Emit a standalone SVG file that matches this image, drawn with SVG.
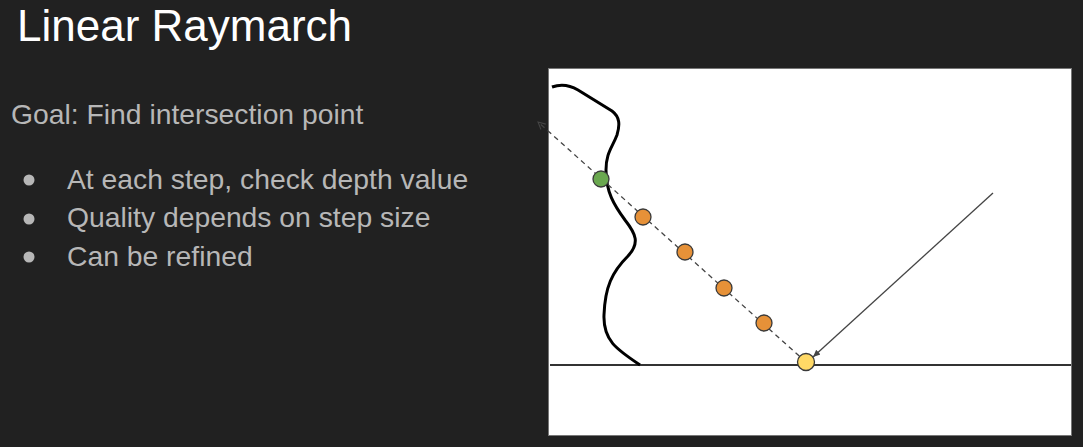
<svg xmlns="http://www.w3.org/2000/svg" width="1083" height="447" viewBox="0 0 1083 447">
<style>
.title{font-family:"Liberation Sans",Arial,sans-serif;font-size:44px;fill:#ffffff}
.body{font-family:"Liberation Sans",Arial,sans-serif;font-size:28.3px;fill:#b7b7b7}
.dot{stroke:#3a3a3a;stroke-width:1.3}
.orange{fill:#e69138}
</style>
<defs>
<marker id="arr" viewBox="0 0 10 10" refX="9" refY="5" markerWidth="8" markerHeight="8" markerUnits="userSpaceOnUse" orient="auto">
<path d="M0,1 L9,5 L0,9 z" fill="#444"/>
</marker>
<marker id="arrOpen" viewBox="0 0 10 10" refX="9" refY="5" markerWidth="9" markerHeight="9" markerUnits="userSpaceOnUse" orient="auto">
<path d="M1,1 L9,5 L1,9" fill="none" stroke="#444" stroke-width="1.2"/>
</marker>
</defs>
<rect width="1083" height="447" fill="#212121"/>
<text class="title" x="17" y="41">Linear Raymarch</text>
<text class="body" x="11" y="124">Goal: Find intersection point</text>
<g>
<circle cx="29" cy="180" r="5.5" fill="#b7b7b7"/>
<circle cx="29" cy="219" r="5.5" fill="#b7b7b7"/>
<circle cx="29" cy="257" r="5.5" fill="#b7b7b7"/>
<text class="body" x="67" y="189">At each step, check depth value</text>
<text class="body" x="67" y="227">Quality depends on step size</text>
<text class="body" x="67" y="266">Can be refined</text>
</g>
<rect id="panel" x="548.5" y="68.5" width="523" height="367" fill="#ffffff" stroke="#777" stroke-width="1"/>
<g id="ground"><line x1="550" y1="365" x2="1071" y2="365" stroke="#333" stroke-width="2"/></g>
<g id="surface"><path d="M552,87 C560,84 568,84 578,90 L612,111 C620,117 620,125 617,135 C612,148 606,153 606,170 C606,192 614,205 625,220 C636,234 640,243 628,256 C612,272 605,287 604,315 C603,340 616,349 640,365" fill="none" stroke="#000" stroke-width="3"/></g>
<g id="connectors">
<line x1="806" y1="362" x2="538" y2="122" stroke="#444" stroke-width="1.3" stroke-dasharray="5,4" marker-end="url(#arrOpen)"/>
<line x1="993" y1="193" x2="813" y2="357" stroke="#444" stroke-width="1.3" marker-end="url(#arr)"/>
</g>
<g id="hit"><circle class="dot" cx="601" cy="179" r="8" fill="#6aa84f"/></g>
<g id="step1"><circle class="dot orange" cx="643" cy="217" r="8"/></g>
<g id="step2"><circle class="dot orange" cx="685" cy="252" r="8"/></g>
<g id="step3"><circle class="dot orange" cx="724" cy="288" r="8"/></g>
<g id="step4"><circle class="dot orange" cx="764" cy="323" r="8"/></g>
<g id="start"><circle class="dot" cx="806" cy="362" r="8.5" fill="#ffd966"/></g>
</svg>
